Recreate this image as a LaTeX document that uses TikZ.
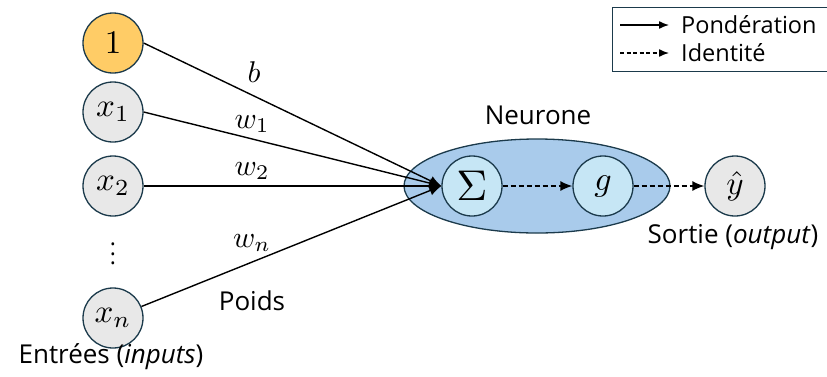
\documentclass[tikz,border=0pt]{standalone}
\usepackage{graphicx}
\usepackage{fontspec}
\setmainfont{Open Sans}
\usetikzlibrary{arrows.meta,shapes.geometric}
\definecolor{edgeC}{RGB}{27,58,75}
\definecolor{orangeC}{RGB}{255,204,102}
\definecolor{greyC}{RGB}{232,232,232}
\definecolor{neuC}{RGB}{169,203,235}
\definecolor{innerC}{RGB}{198,230,245}
\newcommand{\mscale}[2]{\scalebox{#1}{\normalsize$#2$}}
\begin{document}
\begin{tikzpicture}[x=1pt,y=-1pt,
  every node/.style={font=\fontsize{26}{30}\selectfont},
  inp/.style={circle,draw=edgeC,line width=1.3pt,fill=greyC,minimum size=60pt,inner sep=0pt},
  unit/.style={circle,draw=edgeC,line width=1.3pt,fill=innerC,minimum size=60pt,inner sep=0pt},
  wline/.style={line width=1.4pt,-{Latex[length=12pt,width=10pt]}},
  dline/.style={line width=1.4pt,dash pattern=on 5pt off 3pt,-{Latex[length=12pt,width=10pt]}},
  lbl/.style={inner sep=0pt},
  leglbl/.style={inner sep=0pt,anchor=west,font=\fontsize{23.5}{27}\selectfont}
]
\useasboundingbox (0,0) rectangle (827,376);
% neuron ellipse
\node[ellipse,draw=edgeC,line width=1.3pt,fill=neuC,minimum width=266pt,minimum height=94pt,inner sep=0pt] (neu) at (537,186) {};
\node[lbl] (neut) at (538,115) {Neurone};
% inputs
\node[inp,fill=orangeC] (n1) at (113,43) {\mscale{3.3}{1}};
\node[inp] (x1) at (113,112) {\mscale{3.3}{x_1}};
\node[inp] (x2) at (113,186) {\mscale{3.3}{x_2}};
\node[lbl] (dots) at (113,247) {\mscale{2.3}{\vdots}};
\node[inp] (xn) at (113,318) {\mscale{3.3}{x_n}};
\node[lbl] (entr) at (111,357) {Entrées (\textit{inputs})};
% units
\node[unit] (sig) at (472,186) {\mscale{4.3}{\Sigma}};
\node[unit] (g) at (603,186) {\mscale{3.4}{g}};
\node[inp] (y) at (735,186) {\mscale{3.3}{\hat{y}}};
\node[lbl] (sort) at (733,237) {Sortie (\textit{output})};
% weight connectors
\draw[wline] (n1.east) -- (sig.west);
\draw[wline] (x1.east) -- (sig.west);
\draw[wline] (x2.east) -- (sig.west);
\draw[wline] (xn.22) -- (sig.west);
\node[lbl] (lb) at (254,72) {\mscale{3.0}{b}};
\node[lbl] (lw1) at (252,124) {\mscale{3.0}{w_1}};
\node[lbl] (lw2) at (252,171) {\mscale{3.0}{w_2}};
\node[lbl] (lwn) at (252,243) {\mscale{3.0}{w_n}};
\node[lbl] (poids) at (252,301) {Poids};
% identity connectors
\draw[dline] (sig.east) -- (g.west);
\draw[dline] (g.east) -- (y.west);
% legend
\node[draw=edgeC,line width=1.3pt,minimum width=230pt,minimum height=64pt,anchor=north west,inner sep=0pt] (leg) at (612,7) {};
\coordinate (la1) at (620,25);
\coordinate (lb1) at (669,25);
\coordinate (la2) at (620,53);
\coordinate (lb2) at (669,53);
\draw[line width=1.4pt,-{Latex[length=10pt,width=8pt]}] (la1) -- (lb1);
\draw[line width=1.4pt,dash pattern=on 4pt off 2.5pt,-{Latex[length=10pt,width=8pt]}] (la2) -- (lb2);
\node[leglbl] (lp) at (681,25) {Pondération};
\node[leglbl] (li) at (681,53) {Identité};
\end{tikzpicture}
\end{document}
